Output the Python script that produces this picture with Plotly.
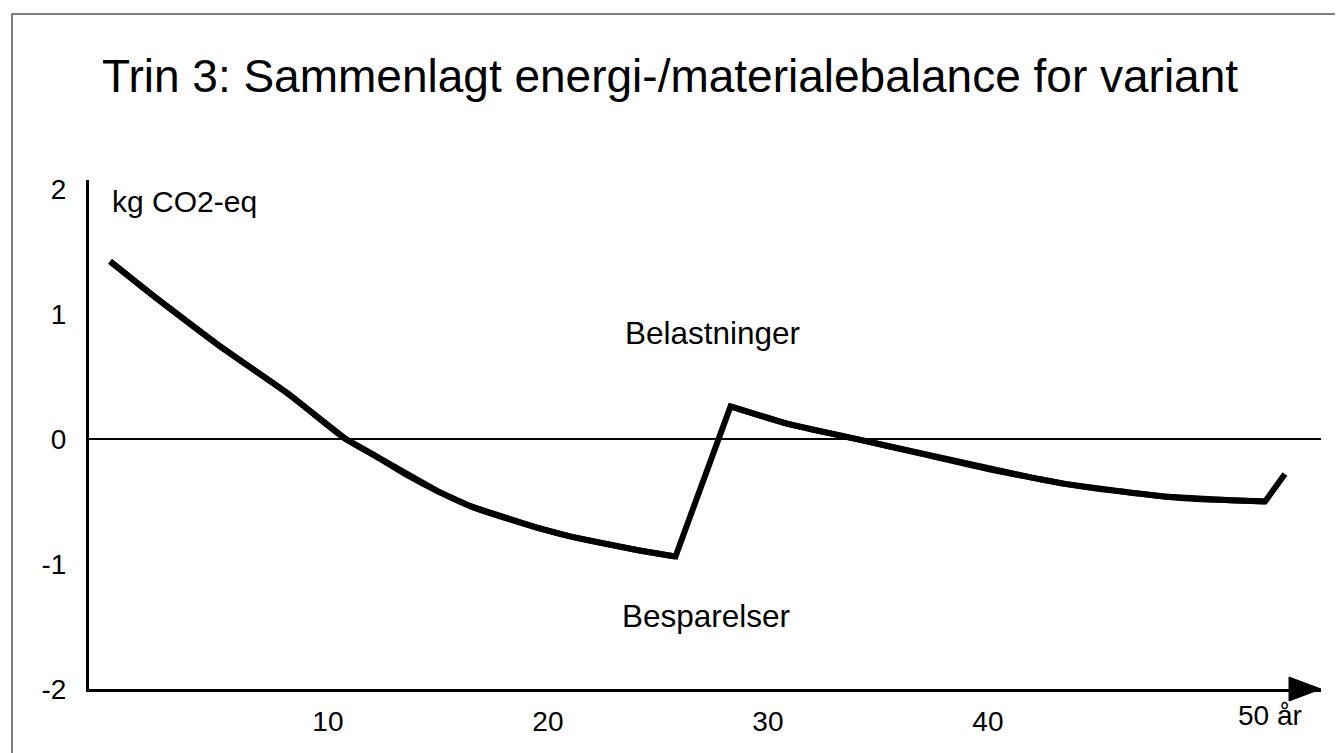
import plotly.graph_objects as go

# Data (years, kg CO2-eq)
years = [0.1, 2.1, 5.1, 8.2, 10.8, 12.0, 13.5, 15.0, 16.5, 18.0, 19.5, 21.0,
         22.6, 24.1, 25.8, 28.3, 30.9, 34.0, 37.0, 40.5, 42.0, 43.5, 45.0,
         46.5, 48.0, 49.5, 51.0, 52.6, 53.5]
balance = [1.42, 1.14, 0.74, 0.36, 0.0, -0.12, -0.28, -0.42, -0.54, -0.63, -0.71, -0.78,
           -0.84, -0.89, -0.94, 0.26, 0.12, 0.0, -0.12, -0.26, -0.31, -0.36, -0.40,
           -0.43, -0.46, -0.48, -0.49, -0.50, -0.28]
# indices where the curve has sharp corners (dip, peak, final turn)
corner_idx = [14, 15, 27]

x_tickvals = [10, 20, 30, 40]
x_ticktext = ["10", "20", "30", "40"]
y_tickvals = [-2, -1, 0, 1, 2]
y_ticktext = ["-2", "-1", "0", "1", "2"]

title_text = "Trin 3: Sammenlagt energi-/materialebalance for variant"
unit_text = "kg CO2-eq"
upper_text = "Belastninger"
lower_text = "Besparelser"
end_text = "50 år"

FONT = "Liberation Sans, Arial, sans-serif"
W, H = 1343, 753
L, R, T, B = 81, 30, 172, 72
pw = W - L - R
ph = H - T - B

def px(x):
    return (x - L) / pw

def py(y):
    return (H - B - y) / ph

fig = go.Figure()
# base polyline (gives sharp corners)
fig.add_trace(go.Scatter(x=years, y=balance, mode="lines",
                         line=dict(color="black", width=6),
                         hoverinfo="skip", showlegend=False))
# smooth overlays on the curved stretches
bounds = [0] + corner_idx + [len(years) - 1]
for a, b in zip(bounds[:-1], bounds[1:]):
    if b - a >= 2:
        fig.add_trace(go.Scatter(x=years[a:b + 1], y=balance[a:b + 1], mode="lines",
                                 line=dict(color="black", width=6, shape="spline", smoothing=0.8),
                                 hoverinfo="skip", showlegend=False))

fig.update_layout(
    width=W, height=H,
    margin=dict(l=L, r=R, t=T, b=B),
    paper_bgcolor="white", plot_bgcolor="white",
    font=dict(family=FONT, color="black"),
    title=dict(text=title_text, x=94 / W, xanchor="left",
               y=1 - 68 / H, yanchor="middle",
               font=dict(size=46, family=FONT, color="black")),
    showlegend=False,
)
fig.update_xaxes(range=[-0.86, 55.14], showgrid=False, zeroline=False,
                 showline=True, linecolor="black", linewidth=3,
                 tickvals=x_tickvals, ticktext=x_ticktext, ticks="",
                 ticklabelstandoff=5,
                 tickfont=dict(size=28, family=FONT, color="black"))
fig.update_yaxes(range=[-2, 2.07], showgrid=False, zeroline=True,
                 zerolinecolor="black", zerolinewidth=2,
                 showline=True, linecolor="black", linewidth=3,
                 tickvals=y_tickvals, ticktext=y_ticktext, ticks="",
                 ticklabelstandoff=14,
                 tickfont=dict(size=28, family=FONT, color="black"))

annos = [
    dict(text=unit_text, x=px(102), y=py(193), xanchor="left", yanchor="middle", size=30),
    dict(text=upper_text, x=px(704), y=py(325), xanchor="center", yanchor="middle", size=31.5),
    dict(text=lower_text, x=px(698), y=py(608), xanchor="center", yanchor="middle", size=31.5),
    dict(text=end_text, x=px(1262), y=py(707), xanchor="center", yanchor="middle", size=28),
]
for a in annos:
    fig.add_annotation(text=a["text"], x=a["x"], y=a["y"], xref="paper", yref="paper",
                       xanchor=a["xanchor"], yanchor=a["yanchor"], showarrow=False,
                       font=dict(size=a["size"], family=FONT, color="black"))

# arrow head at the end of the x axis
fig.add_shape(type="path", xref="paper", yref="paper", xsizemode="pixel", ysizemode="pixel",
              xanchor=1, yanchor=0, path="M -32,-12 L 0,0 L -32,12 Z",
              fillcolor="black", line=dict(color="black", width=1))
# outer frame
fig.add_shape(type="rect", xref="paper", yref="paper",
              x0=px(4), x1=px(1337), y0=py(770), y1=py(6),
              line=dict(color="#555555", width=1.5), fillcolor="rgba(0,0,0,0)", layer="below")

fig.write_html("out.html")
